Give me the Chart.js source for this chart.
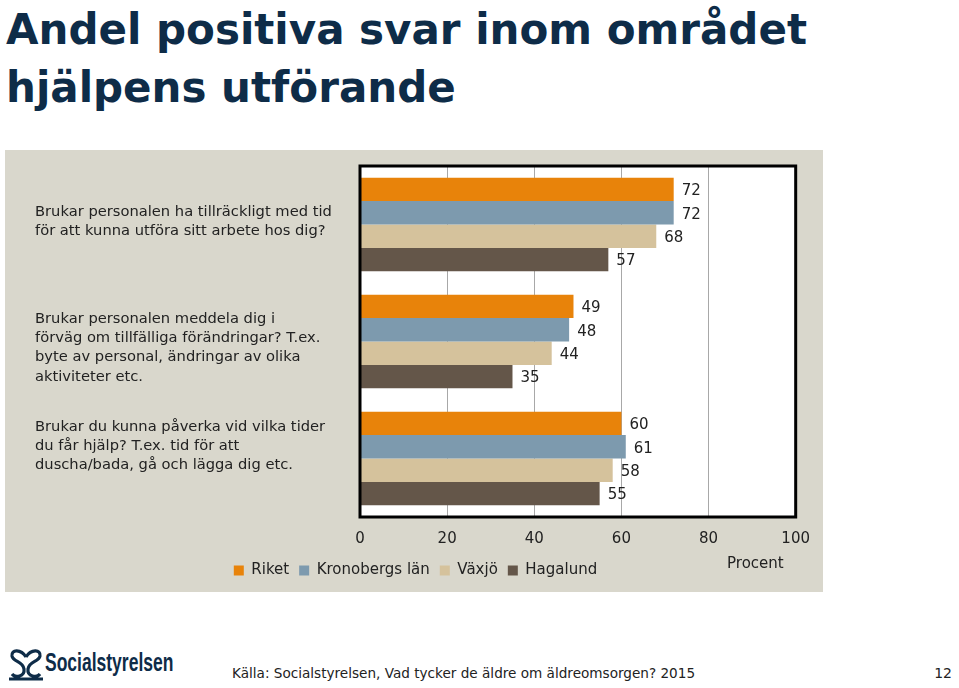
<!DOCTYPE html>
<html><head><meta charset="utf-8">
<script src="https://cdn.jsdelivr.net/npm/chart.js@4/dist/chart.umd.min.js"></script>
<style>
html,body{margin:0;padding:0;background:#fff;width:959px;height:688px;overflow:hidden;font-family:"DejaVu Sans",sans-serif;}
#title{position:absolute;left:6px;top:1px;margin:0;font-family:"DejaVu Sans",sans-serif;font-weight:bold;font-size:42px;line-height:58px;color:#0e2c48;}
#panel{position:absolute;left:5px;top:150px;width:818px;height:442px;background:#d9d7cc;}
#panel canvas{position:absolute;left:0;top:0;}
#footer{position:absolute;left:232px;top:665px;font-size:13.6px;color:#222;font-family:"DejaVu Sans",sans-serif;}
#page{position:absolute;right:7px;top:665px;font-size:14px;color:#222;}
#logo{position:absolute;left:7px;top:647px;}
#logotext{position:absolute;left:45px;top:648px;font-family:"Liberation Sans",sans-serif;font-weight:bold;font-size:25px;color:#0e2c48;transform:scaleX(0.7);transform-origin:0 0;white-space:nowrap;}
</style></head>
<body>
<h1 id="title">Andel positiva svar inom området<br>hjälpens utförande</h1>
<div id="panel"><canvas id="c" width="818" height="442"></canvas></div>
<svg id="logo" width="38" height="36" viewBox="0 0 38 36">
<path d="M19 10 C14 2 4 2 5 9 C6 15 16 14 17 22 C18 30 8 31 5 27 M19 10 C24 2 34 2 33 9 C32 15 22 14 21 22 C20 30 30 31 33 27 M2 32 H36" fill="none" stroke="#0e2c48" stroke-width="3.2"/>
</svg>
<div id="logotext">Socialstyrelsen</div>
<div id="footer">Källa: Socialstyrelsen, Vad tycker de äldre om äldreomsorgen? 2015</div>
<div id="page">12</div>
<script>
const categories = [
  ["Brukar personalen ha tillräckligt med tid", "för att kunna utföra sitt arbete hos dig?"],
  ["", "Brukar personalen meddela dig i", "förväg om tillfälliga förändringar? T.ex.", "byte av personal, ändringar av olika", "aktiviteter etc."],
  ["Brukar du kunna påverka vid vilka tider", "du får hjälp? T.ex. tid för att", "duscha/bada, gå och lägga dig etc.", ""]
];
const seriesNames = ["Riket", "Kronobergs län", "Växjö", "Hagalund"];
const riket = [72, 49, 60];
const kronoberg = [72, 48, 61];
const vaxjo = [68, 44, 58];
const hagalund = [57, 35, 55];
const xTicks = [0, 20, 40, 60, 80, 100];
const colors = ["#e8830a", "#7d9aae", "#d5c29c", "#645649"];

const FONT = "DejaVu Sans";
const plotBg = {
  id: 'plotBg',
  beforeDraw(chart) {
    const {ctx, chartArea: a} = chart;
    ctx.save(); ctx.fillStyle = '#fff'; ctx.fillRect(a.left, a.top, a.right - a.left, a.bottom - a.top); ctx.restore();
  },
  afterDraw(chart) {
    const {ctx, chartArea: a} = chart;
    ctx.save(); ctx.strokeStyle = '#000'; ctx.lineWidth = 3;
    ctx.strokeRect(a.left, a.top, a.right - a.left, a.bottom - a.top);
    const xs = chart.scales.x;
    ctx.fillStyle = '#222'; ctx.font = '15px "' + FONT + '"';
    ctx.textAlign = 'right'; ctx.textBaseline = 'middle';
    ctx.fillText('Procent', xs.getPixelForValue(100) - 12, 414);
    ctx.restore();
  },
  afterDatasetsDraw(chart) {
    const {ctx} = chart;
    ctx.save(); ctx.fillStyle = '#222'; ctx.font = '15px "' + FONT + '"';
    ctx.textAlign = 'left'; ctx.textBaseline = 'middle';
    chart.data.datasets.forEach((ds, i) => {
      chart.getDatasetMeta(i).data.forEach((bar, j) => {
        ctx.fillText(String(ds.data[j]), bar.x + 8, bar.y + 2);
      });
    });
    ctx.restore();
  }
};

new Chart(document.getElementById('c'), {
  type: 'bar',
  data: {
    labels: categories,
    datasets: [
      {label: seriesNames[0], data: riket, backgroundColor: colors[0]},
      {label: seriesNames[1], data: kronoberg, backgroundColor: colors[1]},
      {label: seriesNames[2], data: vaxjo, backgroundColor: colors[2]},
      {label: seriesNames[3], data: hagalund, backgroundColor: colors[3]}
    ]
  },
  options: {
    indexAxis: 'y',
    responsive: false,
    animation: false,
    layout: {padding: {left: 30, top: 16, right: 27, bottom: 4}},
    datasets: {bar: {barPercentage: 1, categoryPercentage: 0.8}},
    scales: {
      x: {
        min: 0, max: 100,
        afterBuildTicks(s) { s.ticks = xTicks.map(v => ({value: v})); },
        afterFit(s) { s.height = 36; },
        grid: {color: '#a8a8a8', lineWidth: 1, drawTicks: false},
        border: {display: false},
        ticks: {padding: 13, color: '#222', font: {family: FONT, size: 15}}
      },
      y: {
        afterFit(s) { s.width = 325; s.paddingTop = 0; s.paddingBottom = 0; },
        grid: {display: false, drawTicks: false},
        border: {display: false},
        ticks: {crossAlign: 'far', color: '#222', labelOffset: -3, font: {family: FONT, size: 14.7, lineHeight: 1.3}}
      }
    },
    plugins: {
      legend: {
        position: 'bottom',
        labels: {boxWidth: 10, boxHeight: 10, color: '#222', font: {family: FONT, size: 15}, padding: 10}
      },
      tooltip: {enabled: false}
    }
  },
  plugins: [plotBg]
});
</script>
</body></html>
